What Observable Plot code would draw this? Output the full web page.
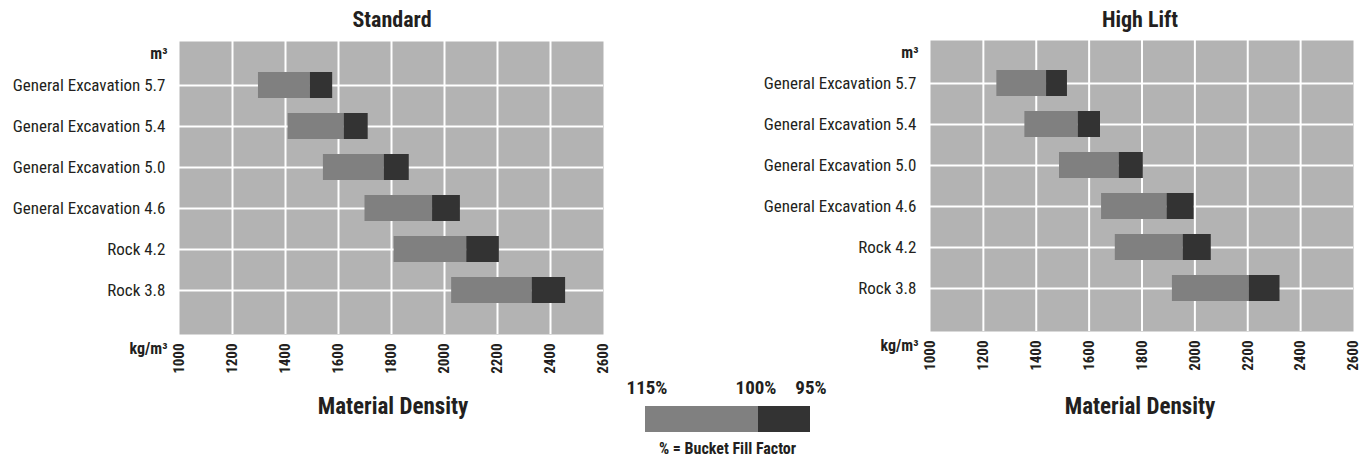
<!DOCTYPE html>
<html>
<head>
<meta charset="utf-8">
<script src="https://cdn.jsdelivr.net/npm/d3@7"></script>
<script src="https://cdn.jsdelivr.net/npm/@observablehq/plot@0.6"></script>
<style>
  html, body { margin: 0; padding: 0; background: #fff; }
  #page { position: relative; width: 1372px; height: 459px; overflow: hidden;
          font-family: "Liberation Sans Narrow", "Roboto Condensed", "DejaVu Sans Condensed", "Arial Narrow", sans-serif;
          color: #231f20; }
  .abs { position: absolute; }
  .title { font-weight: bold; font-size: 22px; transform: translate(-50%, -50%); white-space: nowrap; }
  .xtitle { font-weight: bold; font-size: 23px; transform: translate(-50%, -50%); white-space: nowrap; }
  .chart { position: absolute; top: 0; }
  #legend { position: absolute; left: 645px; top: 376px; width: 165px; height: 83px; }
  #legend .pct { position: absolute; top: 0; font-weight: bold; font-size: 19px; transform: translateX(-50%); white-space: nowrap; }
  #legend .bar { position: absolute; top: 30px; height: 26px; }
  #legend .cap { position: absolute; top: 63px; left: 50%; transform: translateX(-50%); font-weight: bold; font-size: 16px; white-space: nowrap; }
</style>
</head>
<body>
<div id="page">
  <div class="abs title" style="left:392px; top:19px;">Standard</div>
  <div class="abs title" style="left:1140px; top:19px;">High Lift</div>
  <div id="left" class="chart" style="left:0px;"></div>
  <div id="right" class="chart" style="left:751px;"></div>
  <div class="abs xtitle" style="left:393px; top:406px;">Material Density</div>
  <div class="abs xtitle" style="left:1140px; top:406px;">Material Density</div>
  <div id="legend">
    <div class="pct" style="left:2px;">115%</div>
    <div class="pct" style="left:111px;">100%</div>
    <div class="pct" style="left:166px;">95%</div>
    <div class="bar" style="left:0; width:113px; background:#808080;"></div>
    <div class="bar" style="left:113px; width:52px; background:#333333;"></div>
    <div class="cap">% = Bucket Fill Factor</div>
  </div>
</div>
<script>
// Bucket sizes (m³) by material
const categories = [
  "General Excavation 5.7",
  "General Excavation 5.4",
  "General Excavation 5.0",
  "General Excavation 4.6",
  "Rock 4.2",
  "Rock 3.8"
];
// Standard: material density (kg/m³) at 115%, 100%, 95% bucket fill factor
const stdAt115 = [1298, 1410, 1543, 1700, 1810, 2027];
const stdAt100 = [1494, 1622, 1773, 1955, 2084, 2331];
const stdAt95  = [1578, 1712, 1867, 2060, 2207, 2457];
// High Lift
const hlAt115 = [1251, 1357, 1488, 1647, 1699, 1915];
const hlAt100 = [1439, 1559, 1714, 1895, 1956, 2205];
const hlAt95  = [1518, 1643, 1805, 1997, 2062, 2322];
// x axis ticks (kg/m³)
const xTicks = [1000, 1200, 1400, 1600, 1800, 2000, 2200, 2400, 2600];
const xDomain = [1000, 2600];

const FONT = '"Liberation Sans Narrow", "Roboto Condensed", "DejaVu Sans Condensed", "Arial Narrow", sans-serif';

function makeChart(low, mid, high, opts) {
  const rows = categories.map((c, i) => ({cat: c, low: low[i], mid: mid[i], high: high[i]}));
  return Plot.plot({
    width: opts.width,
    height: opts.height,
    marginLeft: 179,
    marginRight: opts.marginRight,
    marginTop: opts.marginTop,
    marginBottom: opts.marginBottom,
    x: {domain: xDomain},
    y: {domain: categories, type: "band", paddingInner: 0.357, paddingOuter: 0.679},
    style: {fontFamily: FONT, fontSize: "16px", color: "#231f20", background: "transparent", overflow: "visible"},
    marks: [
      Plot.frame({fill: "#b3b3b3", stroke: "none"}),
      Plot.gridX(xTicks.slice(1, -1), {stroke: "white", strokeOpacity: 1, strokeWidth: 2}),
      Plot.gridY({stroke: "white", strokeOpacity: 1, strokeWidth: 2}),
      Plot.barX(rows, {y: "cat", x1: "low", x2: "mid", fill: "#808080"}),
      Plot.barX(rows, {y: "cat", x1: "mid", x2: "high", fill: "#333333"}),
      Plot.axisY({tickSize: 0, tickPadding: 14, label: null, fontSize: 17}),
      Plot.axisX({ticks: xTicks, tickSize: 0, tickRotate: -90, tickPadding: 9, label: null,
                  fontWeight: "bold", fontSize: 15, tickFormat: d => String(d)}),
      Plot.text(["m³"], {text: d => d, frameAnchor: "top-left", dx: -12, dy: 6, textAnchor: "end", fontWeight: "bold", fontSize: 16}),
      Plot.text(["kg/m³"], {text: d => d, frameAnchor: "bottom-left", dx: -12, dy: 19, textAnchor: "end", fontWeight: "bold", fontSize: 16})
    ]
  });
}

document.getElementById("left").append(
  makeChart(stdAt115, stdAt100, stdAt95, {width: 620, height: 380, marginRight: 17, marginTop: 41, marginBottom: 46})
);
document.getElementById("right").append(
  makeChart(hlAt115, hlAt100, hlAt95, {width: 621, height: 380, marginRight: 19, marginTop: 40, marginBottom: 49})
);
</script>
</body>
</html>
